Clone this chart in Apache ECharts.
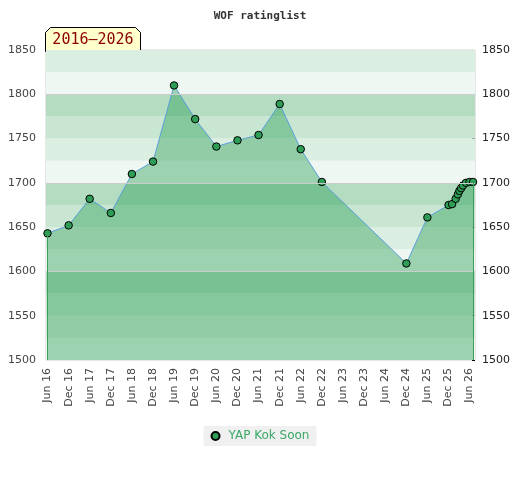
<!DOCTYPE html>
<html>
<head>
<meta charset="utf-8">
<script src="https://cdn.jsdelivr.net/npm/echarts@6/dist/echarts.min.js"></script>
<style>
html,body{margin:0;padding:0;background:#fff;}
#main{width:520px;height:480px;}
</style>
</head>
<body>
<div id="main"></div>
<script>
/*rating data*/
var dates = ['2016-06-01','2016-12-01','2017-06-01','2017-12-01','2018-06-01','2018-12-01',
  '2019-06-01','2019-12-01','2020-06-01','2020-12-01','2021-06-01','2021-12-01',
  '2022-06-01','2022-12-01','2024-12-01','2025-06-01','2025-12-01','2026-01-01',
  '2026-02-01','2026-02-20','2026-03-05','2026-03-20','2026-04-05','2026-05-01',
  '2026-06-01','2026-07-01'];
var ratings = [1643,1652,1682,1666,1710,1724,1810,1772,1741,1748,1754,1789,
  1738,1701,1609,1661,1675,1676,1682,1687,1691,1694,1697,1700,1701,1701];

/*x ticks*/
var tickDates = ['2016-06-01','2016-12-01','2017-06-01','2017-12-01','2018-06-01','2018-12-01',
  '2019-06-01','2019-12-01','2020-06-01','2020-12-01','2021-06-01','2021-12-01',
  '2022-06-01','2022-12-01','2023-06-01','2023-12-01','2024-06-01','2024-12-01',
  '2025-06-01','2025-12-01','2026-06-01'];
var tickLabels = ['Jun 16','Dec 16','Jun 17','Dec 17','Jun 18','Dec 18','Jun 19','Dec 19',
  'Jun 20','Dec 20','Jun 21','Dec 21','Jun 22','Dec 22','Jun 23','Dec 23','Jun 24','Dec 24',
  'Jun 25','Dec 25','Jun 26'];

var yMin = 1500, yMax = 1850;
var xMin = '2016-05-19', xMax = '2026-07-18';
var playerName = 'YAP Kok Soon';
var rangeText = '2016\u20132026';

function ts(d){ return +new Date(d + 'T00:00:00Z'); }
var tickTimes = tickDates.map(ts);
var times = dates.map(ts);
var seriesData = times.map(function(t, i){ return [t, ratings[i]]; });

/*背景色带*/
var bandColors = {0:'#eef7f1', 25:'#dbeee2', 50:'#c8e6d2', 75:'#b3dcc0'};
var bands = [];
for (var lo = yMin; lo < yMax; lo += 25) {
  bands.push([{yAxis: lo, itemStyle: {color: bandColors[lo % 100]}}, {yAxis: lo + 25}]);
}
var hundredLines = [];
for (var v = Math.ceil((yMin + 1) / 100) * 100; v < yMax; v += 100) {
  hundredLines.push({yAxis: v});
}
function plain(val){ return String(val); }

var myChart = echarts.init(document.getElementById('main'));
myChart.setOption({
  animation: false,
  title: {
    text: 'WOF ratinglist',
    left: 'center',
    top: 6,
    textStyle: {fontFamily: 'DejaVu Sans Mono', fontSize: 11, fontWeight: 'bold', color: '#333'}
  },
  grid: {left: 46, right: 45, top: 50, bottom: 120, show: true, borderColor: '#d0d0d0', borderWidth: 1, backgroundColor: 'transparent'},
  legend: {
    bottom: 34,
    left: 'center',
    backgroundColor: '#f0f0f0',
    padding: [4, 7, 4, 7],
    icon: 'circle',
    itemWidth: 8,
    itemHeight: 8,
    textStyle: {color: '#3aa866', fontSize: 12, fontFamily: 'DejaVu Sans', padding: [0, 0, 0, 4]},
    data: [playerName]
  },
  xAxis: {
    type: 'value',
    min: ts(xMin),
    max: ts(xMax),
    axisLine: {show: false},
    axisTick: {show: false},
    splitLine: {show: false},
    axisLabel: {
      customValues: tickTimes,
      rotate: 90,
      margin: 8,
      color: '#444',
      fontSize: 11,
      fontFamily: 'DejaVu Sans',
      formatter: function(val){
        var i = tickTimes.indexOf(+val);
        return i >= 0 ? tickLabels[i] : '';
      }
    }
  },
  yAxis: [{
    type: 'value',
    min: yMin, max: yMax, interval: 50,
    axisLine: {show: false},
    axisTick: {show: false},
    splitLine: {show: false},
    axisLabel: {color: '#444', fontSize: 11, fontFamily: 'DejaVu Sans', margin: 10, formatter: plain}
  }, {
    type: 'value',
    position: 'right',
    min: yMin, max: yMax, interval: 50,
    axisLine: {show: false},
    axisTick: {show: true, inside: true, length: 3, lineStyle: {color: '#000'}},
    minorTick: {show: true, splitNumber: 5, length: 3, lineStyle: {color: '#000'}},
    splitLine: {show: false},
    axisLabel: {color: '#222', fontSize: 11, fontFamily: 'DejaVu Sans', margin: 7, formatter: plain}
  }],
  series: [{
    type: 'line',
    name: 'bands',
    z: 1,
    silent: true,
    data: [],
    markArea: {silent: true, data: bands},
    markLine: {
      silent: true, symbol: 'none',
      label: {show: false},
      lineStyle: {color: '#cccccc', width: 1, type: 'solid'},
      data: hundredLines
    }
  }, {
    type: 'line',
    name: playerName,
    z: 3,
    data: seriesData,
    symbol: 'circle',
    symbolSize: 7.5,
    itemStyle: {color: '#2e9e57', borderColor: '#000', borderWidth: 1},
    lineStyle: {color: '#5aa0db', width: 1},
    areaStyle: {color: 'rgb(28,153,74)', opacity: 0.39, origin: 'start'},
    markLine: {
      silent: true, symbol: 'none',
      label: {show: false},
      lineStyle: {color: '#3a9d5c', width: 1, type: 'solid'},
      data: [
        [{coord: [times[0], ratings[0]]}, {coord: [times[0], yMin]}],
        [{coord: [times[times.length - 1], ratings[ratings.length - 1]]}, {coord: [times[times.length - 1], yMin]}]
      ]
    }
  }]
});

/*年份标签*/
myChart.setOption({
  graphic: [{
    type: 'group',
    left: 45,
    top: 27,
    children: [{
      type: 'polygon',
      shape: {points: [[0,24],[0,5],[5,0],[90,0],[95,5],[95,24]]},
      style: {fill: '#ffffcc', stroke: '#000', lineWidth: 1}
    }, {
      type: 'text',
      x: 47.5, y: 13,
      style: {text: rangeText, fill: '#8b0000', font: '15px "DejaVu Sans Mono"', align: 'center', verticalAlign: 'middle'}
    }]
  }]
});
</script>
</body>
</html>
